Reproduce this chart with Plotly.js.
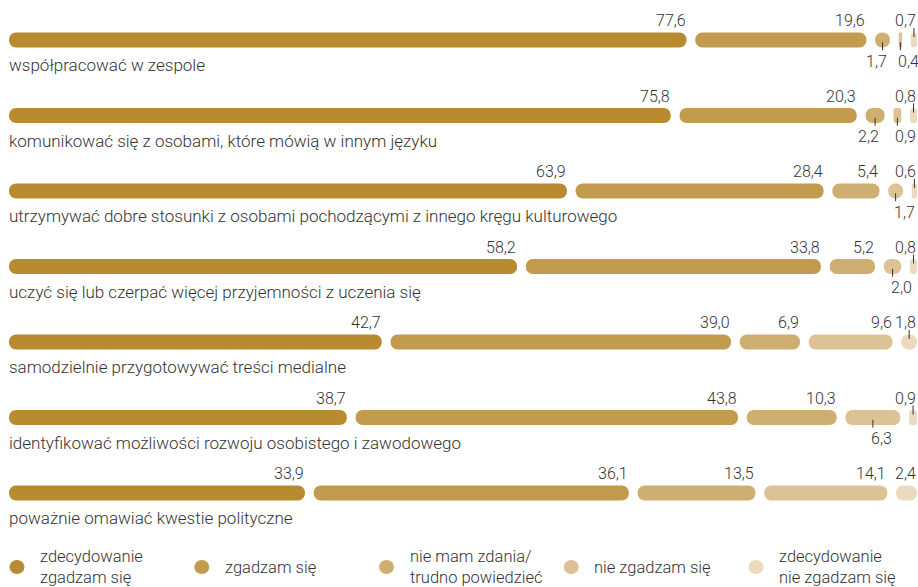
<!DOCTYPE html>
<html><head><meta charset="utf-8">
<script src="https://cdn.plot.ly/plotly-3.0.1.min.js"></script>
<style>html,body{margin:0;padding:0;background:#fff}#chart{width:918px;height:587px}</style>
</head><body><div id="chart"></div>
<script>
const categories = [
  'współpracować w zespole',
  'komunikować się z osobami, które mówią w innym języku',
  'utrzymywać dobre stosunki z osobami pochodzącymi z innego kręgu kulturowego',
  'uczyć się lub czerpać więcej przyjemności z uczenia się',
  'samodzielnie przygotowywać treści medialne',
  'identyfikować możliwości rozwoju osobistego i zawodowego',
  'poważnie omawiać kwestie polityczne'
];
const seriesNames = ['zdecydowanie<br>zgadzam się','zgadzam się','nie mam zdania/<br>trudno powiedzieć','nie zgadzam się','zdecydowanie<br>nie zgadzam się'];
const strongAgree    = [77.6, 75.8, 63.9, 58.2, 42.7, 38.7, 33.9];
const agree          = [19.6, 20.3, 28.4, 33.8, 39.0, 43.8, 36.1];
const noOpinion      = [1.7, 2.2, 5.4, 5.2, 6.9, 10.3, 13.5];
const disagree       = [0.4, 0.9, 1.7, 2.0, 9.6, 6.3, 14.1];
const strongDisagree = [0.7, 0.8, 0.6, 0.8, 1.8, 0.9, 2.4];
const colors = ['#b88b31','#c29b4e','#cfae72','#dcc295','#ebdabd'];

const series = [strongAgree, agree, noOpinion, disagree, strongDisagree];
const GAP = 1.0;
const XMAX = 100 + 4 * GAP;
const rows = categories.map((_, i) => i);
const FONT = 'Roboto, "Noto Sans", sans-serif';
const TXT = '#333333';
const fmt = v => v.toFixed(1).replace('.', ',');

const W = 918, H = 587, ML = 9, MR = 1, MT = 0, MB = 57;
const PW = W - ML - MR, PH = H - MT - MB;
const pxToPaperX = px => (px - ML) / PW;
const pxToPaperY = py => (PH + MT - py) / PH;

// start/end of each segment
const starts = series.map(() => []);
const ends = series.map(() => []);
rows.forEach(i => {
  let acc = 0;
  series.forEach((s, k) => {
    starts[k][i] = acc + k * GAP;
    acc += s[i];
    ends[k][i] = acc + k * GAP;
  });
});

const traces = series.map((s, k) => ({
  type: 'bar', orientation: 'h', y: rows,
  x: s, base: starts[k], width: 0.2, name: seriesNames[k].replace('<br>', ' '),
  marker: {color: colors[k], cornerradius: 8, line: {width: 0}},
  hoverinfo: 'skip', showlegend: false
}));

const annotations = [];
const shapes = [];
const LABELW = 2.45;
const numFont = {family: FONT, size: 16, color: TXT, weight: 300};
rows.forEach(i => {
  annotations.push({
    x: 0, y: i, xref: 'x', yref: 'y', text: categories[i], showarrow: false,
    xanchor: 'left', yanchor: 'middle', yshift: -25, xshift: -2,
    font: {family: FONT, size: 17, color: TXT, weight: 300}
  });
  let nextLeft = Infinity;
  const below = [];
  for (let k = series.length - 1; k >= 0; k--) {
    const v = series[k][i];
    const e = ends[k][i];
    const isBelow = k < series.length - 1 && (v < 3 || e > nextLeft);
    below[k] = isBelow;
    if (!isBelow) nextLeft = e - LABELW;
  }
  series.forEach((s, k) => {
    const v = s[i];
    const c = (starts[k][i] + ends[k][i]) / 2;
    if (below[k]) {
      const rightNeighbourBelow = k + 1 < series.length && below[k + 1];
      annotations.push({
        x: c, y: i, xref: 'x', yref: 'y', text: fmt(v), showarrow: false,
        xanchor: rightNeighbourBelow ? 'right' : 'left',
        xshift: rightNeighbourBelow ? 6 : -4,
        yanchor: 'middle', yshift: -21, font: numFont
      });
      shapes.push({type: 'line', xref: 'x', yref: 'y', x0: c, x1: c, y0: i + 0.03, y1: i + 0.135,
        line: {color: TXT, width: 1}});
    } else {
      annotations.push({
        x: ends[k][i], y: i, xref: 'x', yref: 'y', text: fmt(v), showarrow: false,
        xanchor: 'right', yanchor: 'middle', yshift: 19.5, xshift: 1, font: numFont
      });
      if (v < 2) {
        shapes.push({type: 'line', xref: 'x', yref: 'y', x0: c, x1: c, y0: i - 0.16, y1: i - 0.04,
          line: {color: TXT, width: 1}});
      }
    }
  });
});

// legend (drawn row, 5 entries)
const LEG_CX0 = 17, LEG_STEP = 184.75, LEG_CY = 567;
seriesNames.forEach((nm, k) => {
  const cx = LEG_CX0 + LEG_STEP * k;
  shapes.push({
    type: 'circle', xref: 'paper', yref: 'paper', xsizemode: 'pixel', ysizemode: 'pixel',
    xanchor: pxToPaperX(cx), yanchor: pxToPaperY(LEG_CY),
    x0: -7.5, x1: 7.5, y0: -7, y1: 7,
    fillcolor: colors[k], line: {width: 0}
  });
  annotations.push({
    x: pxToPaperX(cx + 21), y: pxToPaperY(LEG_CY), xref: 'paper', yref: 'paper',
    text: nm, showarrow: false, xanchor: 'left', yanchor: 'middle', align: 'left',
    font: {family: FONT, size: 16.5, color: TXT, weight: 300}
  });
});

const layout = {
  width: W, height: H,
  margin: {l: ML, r: MR, t: MT, b: MB, pad: 0},
  paper_bgcolor: '#ffffff', plot_bgcolor: '#ffffff',
  barmode: 'overlay',
  xaxis: {range: [0, XMAX], visible: false, fixedrange: true},
  yaxis: {range: [6.49, -0.53], visible: false, fixedrange: true},
  showlegend: false,
  annotations: annotations,
  shapes: shapes,
  hovermode: false,
  font: {family: FONT, color: TXT}
};

Plotly.newPlot('chart', traces, layout, {displayModeBar: false, staticPlot: true});
</script>
</body></html>
